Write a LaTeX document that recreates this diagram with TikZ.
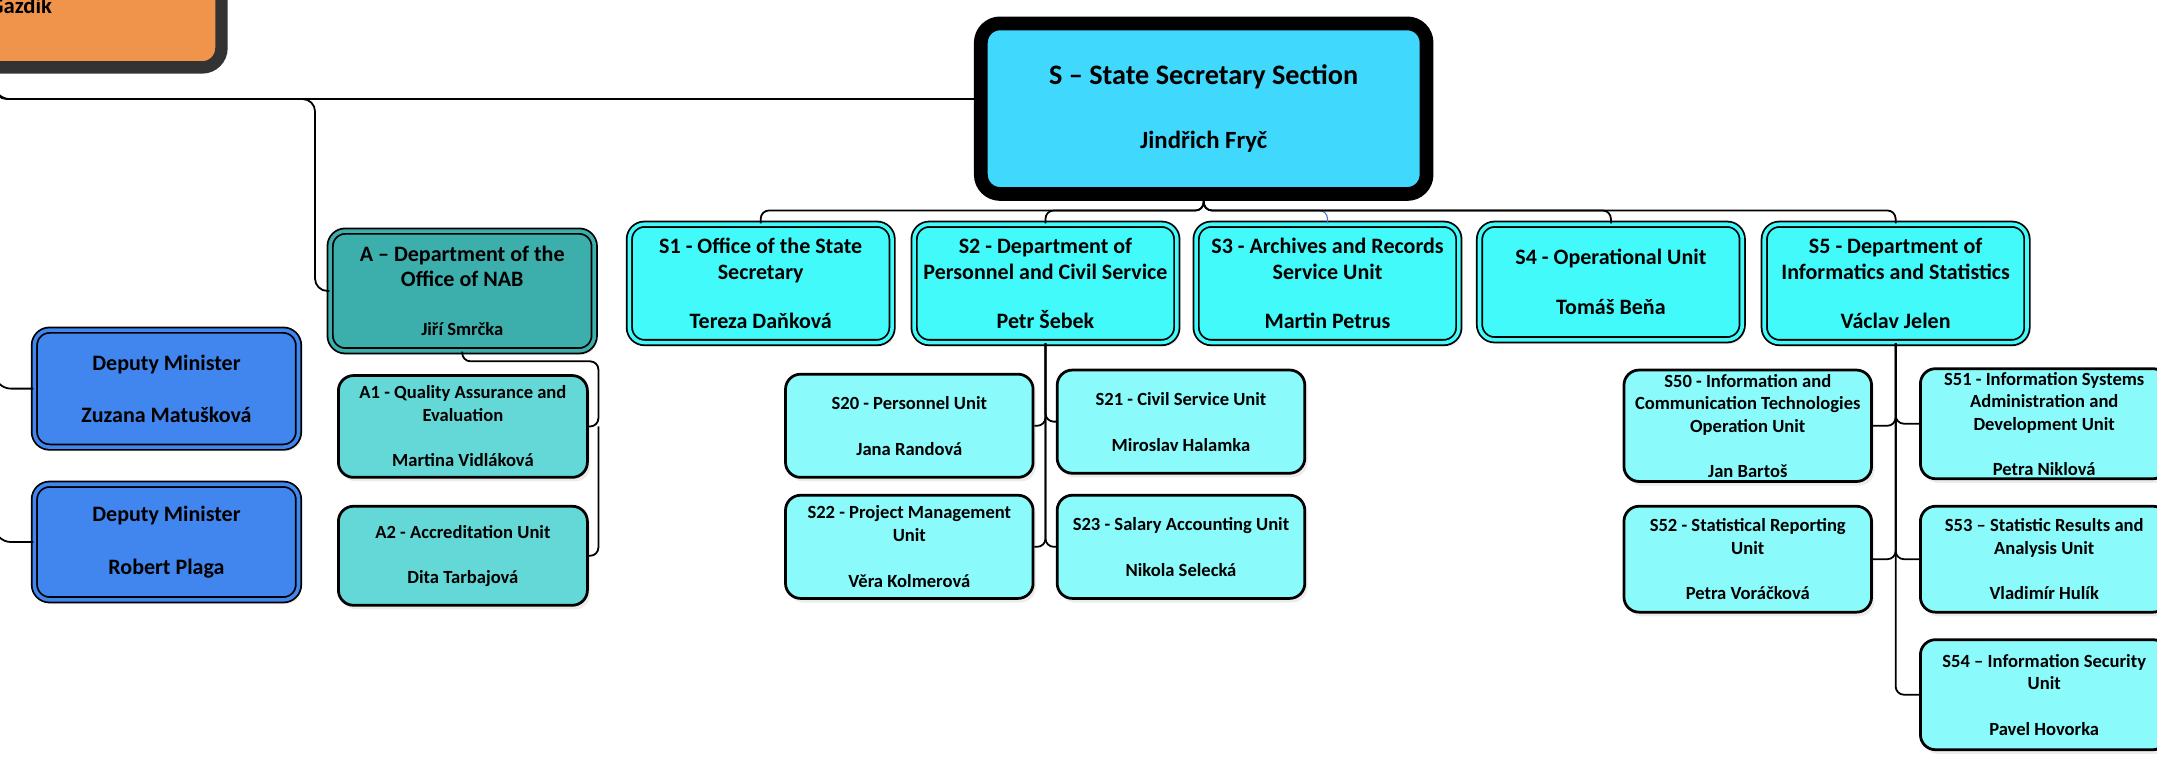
\documentclass[tikz,border=0pt]{standalone}
\usepackage{fontspec}
\setmainfont{Carlito}
\usetikzlibrary{shadows}

\definecolor{secblue}{RGB}{64,216,252}
\definecolor{deptcyan}{RGB}{66,250,250}
\definecolor{unitcyan}{RGB}{138,250,250}
\definecolor{ateal}{RGB}{60,174,172}
\definecolor{aunit}{RGB}{100,216,214}
\definecolor{depblue}{RGB}{64,134,238}
\definecolor{bossorange}{RGB}{240,148,76}
\definecolor{bossgray}{RGB}{51,51,51}
\definecolor{linkblue}{RGB}{80,120,210}

\tikzset{
	box/.style={rectangle, align=center, inner sep=2pt, rounded corners=11pt,
		drop shadow={opacity=0.15, shadow xshift=2pt, shadow yshift=-3pt}},
	dept/.style={box, draw=black, line width=1.3pt, double=deptcyan, double distance=2.6pt,
		fill=deptcyan, minimum width=191pt, minimum height=86pt,
		font=\bfseries\fontsize{16}{19}\selectfont},
	unitbox/.style={box, draw=black, line width=2pt, fill=unitcyan, minimum width=180pt,
		minimum height=75pt, font=\bfseries\fontsize{13.5}{16.5}\selectfont},
	conn/.style={draw=black, line width=1.3pt, rounded corners=6pt}
}

\begin{document}
\begin{tikzpicture}[x=1pt, y=-1pt]
	\useasboundingbox (0,0) rectangle (1568,565.6);
	\clip (0,0) rectangle (1568,565.6);

	% top left box, mostly cut off
	\node[rectangle, draw=bossgray, line width=9pt, fill=bossorange, rounded corners=14pt,
		minimum width=330pt, minimum height=120pt] (boss) at (-4,-11) {};
	\node[anchor=base east, inner sep=0pt, font=\bfseries\fontsize{16.5}{19}\selectfont] (bossname) at (38,10) {Gazdik};

	% state secretary
	\node[box, draw=black, line width=10pt, fill=secblue, rounded corners=14pt,
		minimum width=324pt, minimum height=124pt, font=\bfseries\fontsize{18}{22}\selectfont]
		(S) at (875,79) {{\fontsize{20.5}{24}\selectfont S – State Secretary Section}\\[25pt]Jindřich Fryč};

	% deputies
	\node[box, draw=black, line width=1.3pt, double=depblue, double distance=2.6pt, fill=depblue,
		minimum width=192pt, minimum height=85pt, font=\bfseries\fontsize{16}{19}\selectfont]
		(dep1) at (121,282.5) {Deputy Minister\\[19pt]Zuzana Matušková};
	\node[box, draw=black, line width=1.3pt, double=depblue, double distance=2.6pt, fill=depblue,
		minimum width=192pt, minimum height=84pt, font=\bfseries\fontsize{16}{19}\selectfont]
		(dep2) at (121,394) {Deputy Minister\\[19pt]Robert Plaga};

	% department A
	\node[box, draw=black, line width=1.3pt, double=ateal, double distance=2.6pt, fill=ateal,
		minimum width=192pt, minimum height=87pt, font=\bfseries\fontsize{16}{18}\selectfont]
		(A) at (336,211.5) {A – Department of the\\Office of NAB\\[18pt]{\fontsize{13.5}{16}\selectfont Jiří Smrčka}};
	\node[unitbox, fill=aunit, minimum width=181pt, minimum height=74pt] (A1) at (336.5,310)
		{A1 - Quality Assurance and\\Evaluation\\[16.5pt]Martina Vidláková};
	\node[unitbox, fill=aunit, minimum width=181pt, minimum height=72pt] (A2) at (336.5,404)
		{A2 -  Accreditation Unit\\[16.5pt]Dita Tarbajová};

	% second level
	\node[dept] (S1) at (553,206) {S1 - Office of the State\\Secretary\\[17pt]Tereza Daňková};
	\node[dept] (S2) at (760,206) {S2 - Department of\\Personnel and Civil Service\\[17pt]Petr Šebek};
	\node[dept] (S3) at (965,206) {S3 - Archives and Records\\Service Unit\\[17pt]Martin Petrus};
	\node[dept, minimum height=84pt] (S4) at (1171,205) {S4 - Operational Unit\\[17pt]Tomáš Beňa};
	\node[dept] (S5) at (1378,206) {S5 - Department of\\Informatics and Statistics\\[17pt]Václav Jelen};

	% units of S2
	\node[unitbox] (S20) at (661,309.5) {S20 - Personnel Unit\\[17pt]Jana Randová};
	\node[unitbox] (S21) at (858.5,306.5) {S21 - Civil  Service Unit\\[17pt]Miroslav Halamka};
	\node[unitbox] (S22) at (661,397.5) {S22 - Project Management\\Unit\\[17pt]Věra Kolmerová};
	\node[unitbox] (S23) at (858.5,397.5) {S23 - Salary Accounting Unit\\[17pt]Nikola Selecká};

	% units of S5
	\node[unitbox, minimum height=81pt] (S50) at (1270.5,309.5)
		{S50 - Information and\\Communication Technologies\\Operation Unit\\[16pt]Jan Bartoš};
	\node[unitbox, minimum height=80pt] (S51) at (1486,308)
		{S51 - Information Systems\\Administration and\\Development Unit\\[16pt]Petra Niklová};
	\node[unitbox, minimum height=77pt] (S52) at (1270.5,406.5)
		{S52 - Statistical Reporting\\Unit\\[16.5pt]Petra Voráčková};
	\node[unitbox, minimum height=77pt] (S53) at (1486,406.5)
		{S53 – Statistic Results and\\Analysis Unit\\[16.5pt]Vladimír Hulík};
	\node[unitbox, minimum height=80pt] (S54) at (1486,505)
		{S54 – Information Security\\Unit\\[16.5pt]Pavel Hovorka};

	% connectors
	\draw[conn, rounded corners=11pt] (boss.south) |- ([yshift=7pt]S.west);
	\coordinate (busA) at (229,72);
	\draw[conn, rounded corners=9pt] (boss.south) |- (busA) |- (A.west);
	\draw[conn, rounded corners=12pt] (boss.south) |- (dep1.west);
	\draw[conn, rounded corners=12pt] (boss.south) |- (dep2.west);

	\draw[conn] (A.south) -- ++(0,7) -| ([xshift=7pt]A1.east) -- (A1.east);
	\draw[conn] ([xshift=7pt]A1.east) |- (A2.east);

	\draw[conn, draw=linkblue, line width=0.8pt] (S.south) -- ++(0,7) -| (S3.north);
	\foreach \dep in {S1,S2,S4,S5}
		\draw[conn] (S.south) -- ++(0,7) -| (\dep.north);

	\draw[conn] (S2.south) |- (S20.east);
	\draw[conn] (S2.south) |- (S21.west);
	\draw[conn] (S2.south) |- (S22.east);
	\draw[conn] (S2.south) |- (S23.west);

	\draw[conn] (S5.south) |- (S50.east);
	\draw[conn] (S5.south) |- (S51.west);
	\draw[conn] (S5.south) |- (S52.east);
	\draw[conn] (S5.south) |- (S53.west);
	\draw[conn] (S5.south) |- (S54.west);
\end{tikzpicture}
\end{document}
